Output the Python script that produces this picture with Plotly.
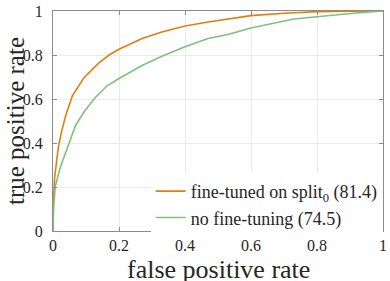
import plotly.graph_objects as go

# ROC curve: fine-tuned on split_0
fpr_ft = [0, 0.0005, 0.002, 0.005, 0.009, 0.016, 0.026, 0.039, 0.059, 0.094, 0.139, 0.17, 0.2, 0.27, 0.33, 0.4, 0.47, 0.53, 0.6, 0.7, 0.8, 0.9, 1]
tpr_ft = [0, 0.08, 0.155, 0.244, 0.304, 0.378, 0.452, 0.527, 0.616, 0.697, 0.764, 0.8, 0.826, 0.875, 0.905, 0.932, 0.95, 0.963, 0.979, 0.99, 0.997, 0.999, 1]

# ROC curve: no fine-tuning
fpr_no = [0, 0.001, 0.007, 0.019, 0.029, 0.049, 0.069, 0.094, 0.124, 0.164, 0.2, 0.27, 0.33, 0.4, 0.47, 0.53, 0.6, 0.73, 0.8, 0.91, 1]
tpr_no = [0, 0.096, 0.203, 0.274, 0.318, 0.405, 0.482, 0.541, 0.60, 0.66, 0.693, 0.752, 0.794, 0.838, 0.875, 0.893, 0.923, 0.964, 0.975, 0.99, 1]

names = ["fine-tuned on split<sub>0</sub> (81.4)", "no fine-tuning (74.5)"]
tick_vals = [0, 0.2, 0.4, 0.6, 0.8, 1]
tick_text = ["0", "0.2", "0.4", "0.6", "0.8", "1"]

FONT = "Liberation Serif, Times New Roman, DejaVu Serif, serif"
TXT = "#262626"
AX = "#8c8c8c"

fig = go.Figure()
fig.add_trace(go.Scatter(x=fpr_ft, y=tpr_ft, mode="lines", name=names[0],
                         line=dict(color="#DF7F10", width=1.6)))
fig.add_trace(go.Scatter(x=fpr_no, y=tpr_no, mode="lines", name=names[1],
                         line=dict(color="#7CC27C", width=1.6)))

axis_common = dict(range=[0, 1], tickvals=tick_vals, ticktext=tick_text,
                   showgrid=True, gridcolor="#ebebeb", gridwidth=1,
                   showline=True, linecolor=AX, linewidth=1, mirror="ticks",
                   ticks="inside", ticklen=4, tickcolor=AX, zeroline=False,
                   ticklabeloverflow="allow",
                   tickfont=dict(family=FONT, size=16, color=TXT))

fig.update_layout(
    width=390, height=281,
    margin=dict(l=53, r=3, t=7, b=50),
    paper_bgcolor="white", plot_bgcolor="white",
    font=dict(family=FONT, color=TXT),
    xaxis=dict(**axis_common, ticklabelstandoff=0),
    yaxis=dict(**axis_common, ticklabelstandoff=6),
    showlegend=True,
    legend=dict(x=0.296, xanchor="left", y=0.264, yanchor="top",
                bgcolor="rgba(255,255,255,1)", borderwidth=0,
                font=dict(family=FONT, size=18, color=TXT)),
    annotations=[
        dict(text="false positive rate", xref="paper", yref="paper", x=0.5, y=0,
             xanchor="center", yanchor="top", yshift=-22, showarrow=False,
             font=dict(family=FONT, size=26, color=TXT)),
        dict(text="true positive rate", xref="paper", yref="paper", x=0, y=0.5,
             xanchor="center", yanchor="middle", xshift=-38, textangle=-90, showarrow=False,
             font=dict(family=FONT, size=25, color=TXT)),
    ],
)

fig.write_html("out.html", config={"displayModeBar": False},
               post_script="document.body.style.margin='0';document.body.style.overflow='hidden';")
